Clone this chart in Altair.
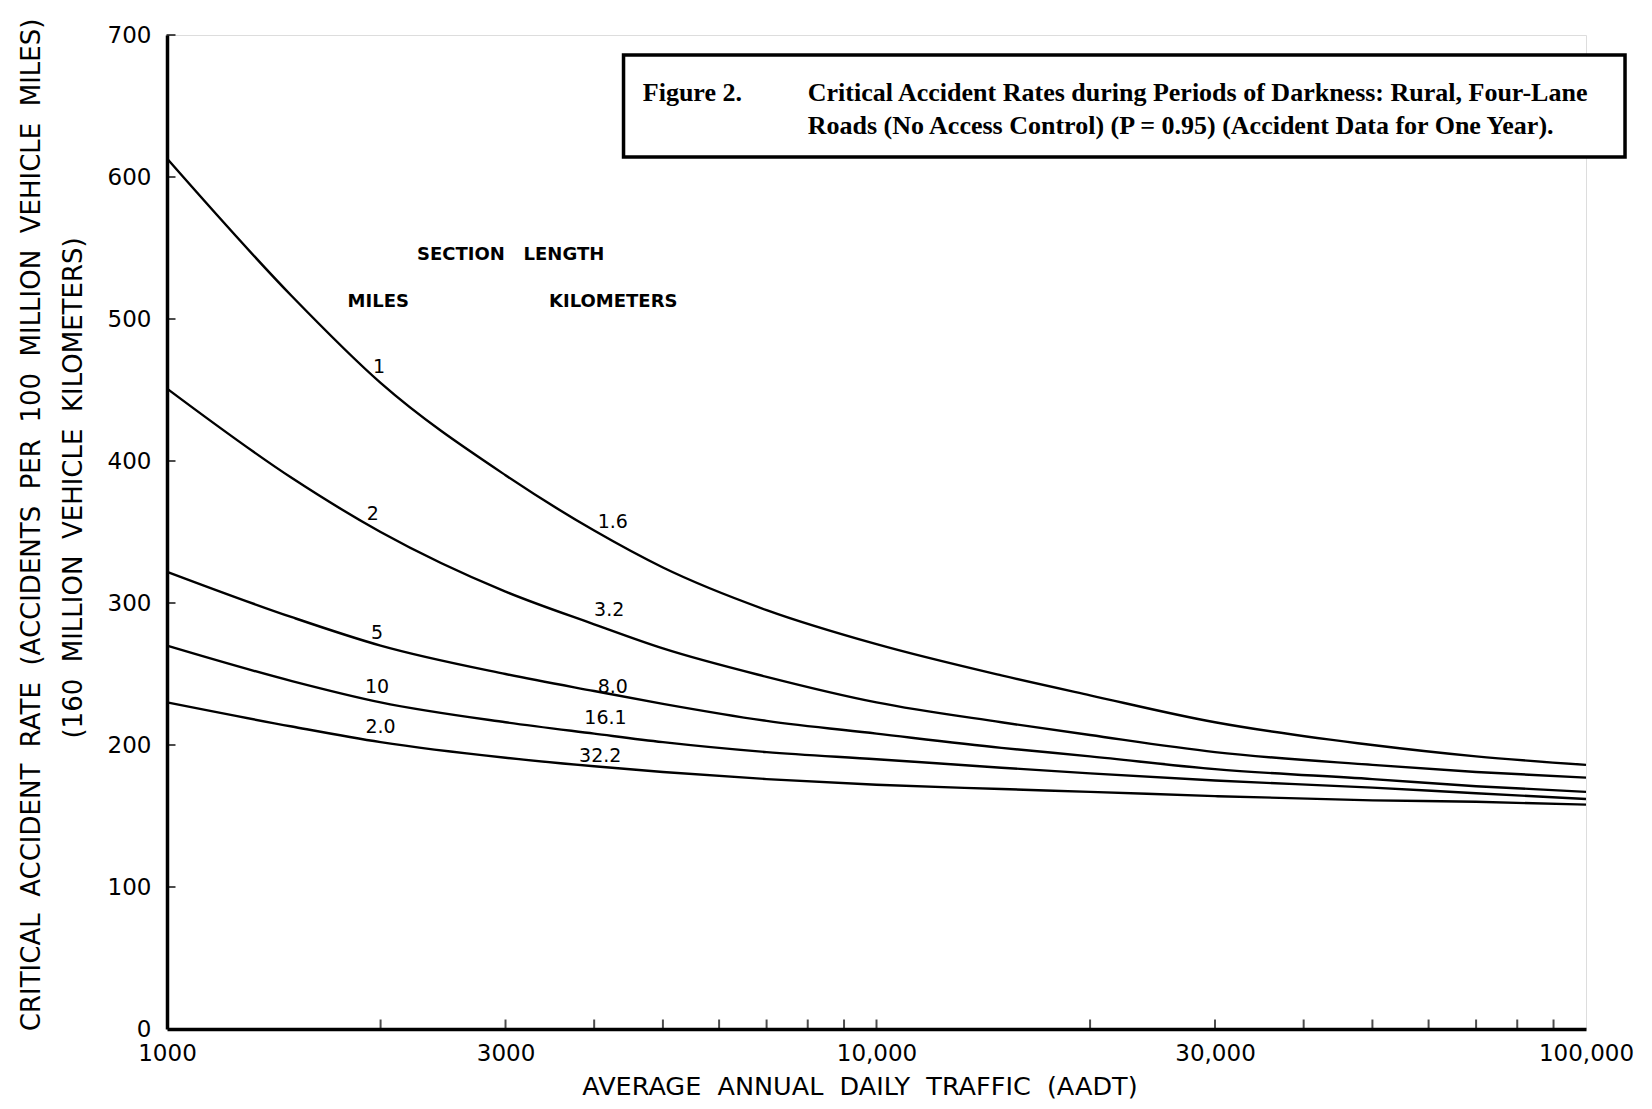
import altair as alt
import pandas as pd

# ---- data ----
aadt = [1000, 1500, 2000, 3000, 4000, 5000, 7000, 10000, 15000, 20000, 30000, 50000, 70000, 100000]
rate_1mi = [613, 516, 455, 390, 351, 325, 295, 271, 249, 235, 216, 200, 192, 186]
rate_2mi = [451, 388, 350, 308, 285, 268, 248, 230, 216, 207, 195, 186, 181, 177]
rate_5mi = [322, 290, 270, 250, 238, 229, 217, 208, 198, 192, 183, 176, 171, 167]
rate_10mi = [270, 245, 230, 216, 208, 202, 195, 190, 184, 180, 175, 170, 166, 162]
rate_20mi = [230, 213, 202, 191, 185, 181, 176, 172, 169, 167, 164, 161, 160, 158]
series_names = ["1", "2", "5", "10", "20"]

# curve labels (miles on left, kilometers on right)
mile_labels = ["1", "2", "5", "10", "2.0"]
mile_x = [1990, 1950, 1977, 1977, 2000]
mile_y = [466, 363, 279, 241, 213]
km_labels = ["1.6", "3.2", "8.0", "16.1", "32.2"]
km_x = [4250, 4200, 4250, 4150, 4080]
km_y = [357, 295, 241, 219, 192]

NB = "\u00a0"
head_text = ["SECTION" + NB * 3 + "LENGTH", "MILES", "KILOMETERS"]
head_x = [3050, 1985, 4256]
head_y = [545, 512, 512]

y_ticks = [0, 100, 200, 300, 400, 500, 600, 700]
x_label_vals = [1000, 3000, 10000, 30000, 100000]
x_minor = [2000, 3000, 4000, 5000, 6000, 7000, 8000, 9000, 10000,
           20000, 30000, 40000, 50000, 60000, 70000, 80000, 90000]

def spaced(s):
    return (NB * 2).join(s.split(" "))

y_title_1 = spaced("CRITICAL ACCIDENT RATE (ACCIDENTS PER 100 MILLION VEHICLE MILES)")
y_title_2 = spaced("(160 MILLION VEHICLE KILOMETERS)")
x_title = spaced("AVERAGE ANNUAL DAILY TRAFFIC (AADT)")
title_t = [y_title_1, y_title_2]
title_x = [645, 740]
title_y = [355, 381]
x_title_pos = (9478, -41)

fig_label = "Figure 2."
fig_lines = ["Critical Accident Rates during Periods of Darkness: Rural, Four-Lane",
             "Roads (No Access Control) (P = 0.95) (Accident Data for One Year)."]
box_x, box_x2, box_y, box_y2 = 4400, 113500, 686, 614
fig_label_x, fig_text_x = 4684, 8000
fig_text_y = [659, 636]

rows = []
for name, vals in zip(series_names, [rate_1mi, rate_2mi, rate_5mi, rate_10mi, rate_20mi]):
    for a, v in zip(aadt, vals):
        rows.append({"aadt": a, "rate": v, "len": name})
curves = pd.DataFrame(rows)

xs = alt.Scale(type="log", domain=[1000, 100000])
ys = alt.Scale(domain=[0, 700])
FONT = "DejaVu Sans"

lines = alt.Chart(curves).mark_line(color="black", strokeWidth=2.4, interpolate="monotone").encode(
    x=alt.X("aadt:Q", scale=xs,
            axis=alt.Axis(values=x_label_vals,
                          labelExpr="datum.value < 10000 ? format(datum.value,'d') : format(datum.value, ',')",
                          title=None, ticks=False, labelPadding=13,
                          domainWidth=3.5, domainColor="black",
                          labelFont=FONT, labelFontSize=23, labelColor="black",
                          grid=False, labelFlush=False)),
    y=alt.Y("rate:Q", scale=ys,
            axis=alt.Axis(values=y_ticks, ticks=False, labelPadding=16, title=None,
                          domainWidth=3.5, domainColor="black",
                          labelFont=FONT, labelFontSize=23, labelColor="black",
                          grid=False)),
    detail="len:N",
)

ytick_df = pd.DataFrame({"aadt": [1000] * (len(y_ticks) - 1), "rate": y_ticks[1:]})
yticks = alt.Chart(ytick_df).mark_tick(orient="horizontal", color="black", size=9, thickness=2, xOffset=4).encode(
    x=alt.X("aadt:Q", scale=xs), y=alt.Y("rate:Q", scale=ys))

xtick_df = pd.DataFrame({"aadt": x_minor, "rate": [0] * len(x_minor)})
xticks = alt.Chart(xtick_df).mark_tick(orient="vertical", color="black", size=11, thickness=2, yOffset=-4).encode(
    x=alt.X("aadt:Q", scale=xs), y=alt.Y("rate:Q", scale=ys))

lab_df = pd.DataFrame({"x": mile_x + km_x, "y": mile_y + km_y, "t": mile_labels + km_labels})
labs = alt.Chart(lab_df).mark_text(font=FONT, fontSize=19, color="black").encode(
    x=alt.X("x:Q", scale=xs), y=alt.Y("y:Q", scale=ys), text="t:N")

head_df = pd.DataFrame({"x": head_x, "y": head_y, "t": head_text})
heads = alt.Chart(head_df).mark_text(font=FONT, fontSize=18, fontWeight="bold", color="black").encode(
    x=alt.X("x:Q", scale=xs), y=alt.Y("y:Q", scale=ys), text="t:N")

ttl_df = pd.DataFrame({"x": title_x, "y": title_y, "t": title_t})
ytitles = alt.Chart(ttl_df).mark_text(font=FONT, fontSize=26, angle=270, color="black",
                                      align="center", baseline="middle").encode(
    x=alt.X("x:Q", scale=xs), y=alt.Y("y:Q", scale=ys), text="t:N")

xt_df = pd.DataFrame({"x": [x_title_pos[0]], "y": [x_title_pos[1]], "t": [x_title]})
xtitle = alt.Chart(xt_df).mark_text(font=FONT, fontSize=25.5, color="black",
                                    align="center", baseline="middle").encode(
    x=alt.X("x:Q", scale=xs), y=alt.Y("y:Q", scale=ys), text="t:N")

box_df = pd.DataFrame({"x": [box_x], "x2": [box_x2], "y": [box_y], "y2": [box_y2]})
box = alt.Chart(box_df).mark_rect(fill="white", stroke="black", strokeWidth=3.5).encode(
    x=alt.X("x:Q", scale=xs), x2="x2:Q", y=alt.Y("y:Q", scale=ys), y2="y2:Q")

figl_df = pd.DataFrame({"x": [fig_label_x], "y": [fig_text_y[0]], "t": [fig_label]})
figl = alt.Chart(figl_df).mark_text(font="Liberation Serif", fontSize=26, fontWeight="bold",
                                    align="left", color="black").encode(
    x=alt.X("x:Q", scale=xs), y=alt.Y("y:Q", scale=ys), text="t:N")

figt_df = pd.DataFrame({"x": [fig_text_x] * 2, "y": fig_text_y, "t": fig_lines})
figt = alt.Chart(figt_df).mark_text(font="Liberation Serif", fontSize=26, fontWeight="bold",
                                    align="left", color="black").encode(
    x=alt.X("x:Q", scale=xs), y=alt.Y("y:Q", scale=ys), text="t:N")

chart = alt.layer(lines, yticks, xticks, labs, heads, ytitles, xtitle, box, figl, figt).properties(
    width=1419, height=994,
    autosize=alt.AutoSizeParams(type="none"),
    padding={"left": 159, "top": 27, "right": 58, "bottom": 72},
).configure_view(stroke=None).configure(background="white")

chart.save("out.html", embed_options={"renderer": "svg", "actions": False})
